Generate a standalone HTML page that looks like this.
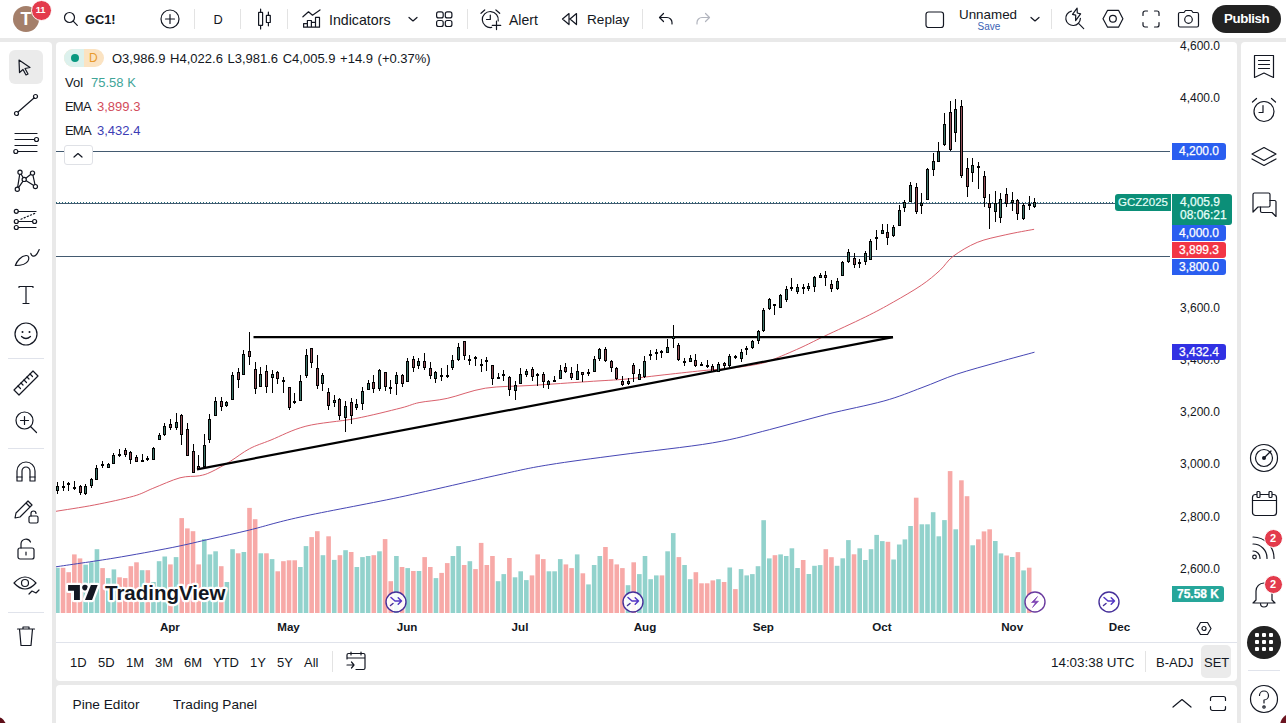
<!DOCTYPE html>
<html><head><meta charset="utf-8">
<style>
*{box-sizing:border-box;margin:0;padding:0}
html,body{width:1286px;height:723px;overflow:hidden;background:#e9e9e9;font-family:"Liberation Sans",sans-serif;color:#131722}
.a{position:absolute}
.t{position:absolute;white-space:nowrap;line-height:1}
svg.i{position:absolute;overflow:visible}
.ico{fill:none;stroke:#131722;stroke-width:1.2;stroke-linecap:round;stroke-linejoin:round}
.pl{position:absolute;height:16px;border-radius:0 3px 3px 0;color:#fff;font-size:12px;line-height:16px;text-align:center;-webkit-text-stroke:0.25px #fff}
.ps{position:absolute;left:1180px;font-size:12px;line-height:1;color:#131722}
.tf{position:absolute;top:656px;font-size:13px;line-height:1;color:#131722}
.tl{position:absolute;top:621.3px;font-size:11.6px;font-weight:bold;line-height:1;color:#131722;transform:translateX(-50%)}
.sep{position:absolute;width:1px;background:#e3e3e3}
</style></head><body>
<!-- top bar -->
<div class="a" style="left:0;top:0;width:1286px;height:38px;background:#fff"></div>
<!-- left toolbar -->
<div class="a" style="left:0;top:42px;width:52px;height:681px;background:#fff;border-top-right-radius:4px"></div>
<!-- right toolbar -->
<div class="a" style="left:1241px;top:42px;width:45px;height:681px;background:#fff;border-top-left-radius:4px"></div>
<!-- chart panel -->
<div class="a" style="left:56px;top:42px;width:1181px;height:639px;background:#fff;border-radius:4px;overflow:hidden">
<div class="a" style="left:-56px;top:-42px;width:1286px;height:723px">
<svg width="1114" height="571" viewBox="56 42 1114 571" style="position:absolute;left:56px;top:42px" shape-rendering="crispEdges">
<rect x="55.10" y="567.8" width="4.6" height="46.2" fill="#92d2cc" shape-rendering="geometricPrecision"/>
<rect x="60.75" y="567.8" width="4.6" height="46.2" fill="#f7a9a7" shape-rendering="geometricPrecision"/>
<rect x="66.40" y="572.2" width="4.6" height="41.8" fill="#f7a9a7" shape-rendering="geometricPrecision"/>
<rect x="72.05" y="554.4" width="4.6" height="59.6" fill="#f7a9a7" shape-rendering="geometricPrecision"/>
<rect x="77.70" y="558.4" width="4.6" height="55.6" fill="#f7a9a7" shape-rendering="geometricPrecision"/>
<rect x="83.35" y="564.7" width="4.6" height="49.3" fill="#92d2cc" shape-rendering="geometricPrecision"/>
<rect x="89.00" y="562.3" width="4.6" height="51.7" fill="#92d2cc" shape-rendering="geometricPrecision"/>
<rect x="94.65" y="549.2" width="4.6" height="64.8" fill="#92d2cc" shape-rendering="geometricPrecision"/>
<rect x="100.30" y="568.1" width="4.6" height="45.9" fill="#f7a9a7" shape-rendering="geometricPrecision"/>
<rect x="105.95" y="578.1" width="4.6" height="35.9" fill="#92d2cc" shape-rendering="geometricPrecision"/>
<rect x="111.60" y="569.4" width="4.6" height="44.6" fill="#92d2cc" shape-rendering="geometricPrecision"/>
<rect x="117.25" y="577.3" width="4.6" height="36.7" fill="#f7a9a7" shape-rendering="geometricPrecision"/>
<rect x="122.90" y="578.1" width="4.6" height="35.9" fill="#f7a9a7" shape-rendering="geometricPrecision"/>
<rect x="128.55" y="566.2" width="4.6" height="47.8" fill="#f7a9a7" shape-rendering="geometricPrecision"/>
<rect x="134.20" y="562.3" width="4.6" height="51.7" fill="#f7a9a7" shape-rendering="geometricPrecision"/>
<rect x="139.85" y="570.2" width="4.6" height="43.8" fill="#92d2cc" shape-rendering="geometricPrecision"/>
<rect x="145.50" y="570.2" width="4.6" height="43.8" fill="#f7a9a7" shape-rendering="geometricPrecision"/>
<rect x="151.15" y="582.0" width="4.6" height="32.0" fill="#92d2cc" shape-rendering="geometricPrecision"/>
<rect x="156.80" y="561.2" width="4.6" height="52.8" fill="#92d2cc" shape-rendering="geometricPrecision"/>
<rect x="162.45" y="556.5" width="4.6" height="57.5" fill="#92d2cc" shape-rendering="geometricPrecision"/>
<rect x="168.10" y="564.4" width="4.6" height="49.6" fill="#f7a9a7" shape-rendering="geometricPrecision"/>
<rect x="173.75" y="557.1" width="4.6" height="56.9" fill="#92d2cc" shape-rendering="geometricPrecision"/>
<rect x="179.40" y="518.1" width="4.6" height="95.9" fill="#f7a9a7" shape-rendering="geometricPrecision"/>
<rect x="185.05" y="528.4" width="4.6" height="85.6" fill="#f7a9a7" shape-rendering="geometricPrecision"/>
<rect x="190.70" y="531.2" width="4.6" height="82.8" fill="#f7a9a7" shape-rendering="geometricPrecision"/>
<rect x="196.35" y="564.4" width="4.6" height="49.6" fill="#f7a9a7" shape-rendering="geometricPrecision"/>
<rect x="202.00" y="539.1" width="4.6" height="74.9" fill="#92d2cc" shape-rendering="geometricPrecision"/>
<rect x="207.65" y="554.4" width="4.6" height="59.6" fill="#92d2cc" shape-rendering="geometricPrecision"/>
<rect x="213.30" y="551.3" width="4.6" height="62.7" fill="#92d2cc" shape-rendering="geometricPrecision"/>
<rect x="218.95" y="566.2" width="4.6" height="47.8" fill="#f7a9a7" shape-rendering="geometricPrecision"/>
<rect x="224.60" y="582.0" width="4.6" height="32.0" fill="#92d2cc" shape-rendering="geometricPrecision"/>
<rect x="230.25" y="549.2" width="4.6" height="64.8" fill="#92d2cc" shape-rendering="geometricPrecision"/>
<rect x="235.90" y="553.3" width="4.6" height="60.7" fill="#f7a9a7" shape-rendering="geometricPrecision"/>
<rect x="241.55" y="552.0" width="4.6" height="62.0" fill="#92d2cc" shape-rendering="geometricPrecision"/>
<rect x="247.20" y="507.9" width="4.6" height="106.1" fill="#f7a9a7" shape-rendering="geometricPrecision"/>
<rect x="252.85" y="519.2" width="4.6" height="94.8" fill="#f7a9a7" shape-rendering="geometricPrecision"/>
<rect x="258.50" y="553.3" width="4.6" height="60.7" fill="#92d2cc" shape-rendering="geometricPrecision"/>
<rect x="264.15" y="553.3" width="4.6" height="60.7" fill="#f7a9a7" shape-rendering="geometricPrecision"/>
<rect x="269.80" y="559.1" width="4.6" height="54.9" fill="#92d2cc" shape-rendering="geometricPrecision"/>
<rect x="275.45" y="571.3" width="4.6" height="42.7" fill="#f7a9a7" shape-rendering="geometricPrecision"/>
<rect x="281.10" y="561.2" width="4.6" height="52.8" fill="#f7a9a7" shape-rendering="geometricPrecision"/>
<rect x="286.75" y="560.3" width="4.6" height="53.7" fill="#f7a9a7" shape-rendering="geometricPrecision"/>
<rect x="292.40" y="560.3" width="4.6" height="53.7" fill="#f7a9a7" shape-rendering="geometricPrecision"/>
<rect x="298.05" y="567.0" width="4.6" height="47.0" fill="#92d2cc" shape-rendering="geometricPrecision"/>
<rect x="303.70" y="546.1" width="4.6" height="67.9" fill="#92d2cc" shape-rendering="geometricPrecision"/>
<rect x="309.35" y="537.1" width="4.6" height="76.9" fill="#f7a9a7" shape-rendering="geometricPrecision"/>
<rect x="315.00" y="531.2" width="4.6" height="82.8" fill="#f7a9a7" shape-rendering="geometricPrecision"/>
<rect x="320.65" y="555.2" width="4.6" height="58.8" fill="#92d2cc" shape-rendering="geometricPrecision"/>
<rect x="326.30" y="536.3" width="4.6" height="77.7" fill="#f7a9a7" shape-rendering="geometricPrecision"/>
<rect x="331.95" y="559.9" width="4.6" height="54.1" fill="#92d2cc" shape-rendering="geometricPrecision"/>
<rect x="337.60" y="555.2" width="4.6" height="58.8" fill="#f7a9a7" shape-rendering="geometricPrecision"/>
<rect x="343.25" y="550.2" width="4.6" height="63.8" fill="#92d2cc" shape-rendering="geometricPrecision"/>
<rect x="348.90" y="552.0" width="4.6" height="62.0" fill="#f7a9a7" shape-rendering="geometricPrecision"/>
<rect x="354.55" y="567.0" width="4.6" height="47.0" fill="#92d2cc" shape-rendering="geometricPrecision"/>
<rect x="360.20" y="557.1" width="4.6" height="56.9" fill="#92d2cc" shape-rendering="geometricPrecision"/>
<rect x="365.85" y="556.0" width="4.6" height="58.0" fill="#92d2cc" shape-rendering="geometricPrecision"/>
<rect x="371.50" y="555.2" width="4.6" height="58.8" fill="#f7a9a7" shape-rendering="geometricPrecision"/>
<rect x="377.15" y="551.3" width="4.6" height="62.7" fill="#92d2cc" shape-rendering="geometricPrecision"/>
<rect x="382.80" y="539.1" width="4.6" height="74.9" fill="#f7a9a7" shape-rendering="geometricPrecision"/>
<rect x="388.45" y="581.2" width="4.6" height="32.8" fill="#f7a9a7" shape-rendering="geometricPrecision"/>
<rect x="394.10" y="556.0" width="4.6" height="58.0" fill="#92d2cc" shape-rendering="geometricPrecision"/>
<rect x="399.75" y="567.0" width="4.6" height="47.0" fill="#f7a9a7" shape-rendering="geometricPrecision"/>
<rect x="405.40" y="568.1" width="4.6" height="45.9" fill="#92d2cc" shape-rendering="geometricPrecision"/>
<rect x="411.05" y="571.0" width="4.6" height="43.0" fill="#f7a9a7" shape-rendering="geometricPrecision"/>
<rect x="416.70" y="571.0" width="4.6" height="43.0" fill="#92d2cc" shape-rendering="geometricPrecision"/>
<rect x="422.35" y="557.1" width="4.6" height="56.9" fill="#f7a9a7" shape-rendering="geometricPrecision"/>
<rect x="428.00" y="567.0" width="4.6" height="47.0" fill="#f7a9a7" shape-rendering="geometricPrecision"/>
<rect x="433.65" y="578.1" width="4.6" height="35.9" fill="#92d2cc" shape-rendering="geometricPrecision"/>
<rect x="439.30" y="572.9" width="4.6" height="41.1" fill="#f7a9a7" shape-rendering="geometricPrecision"/>
<rect x="444.95" y="563.1" width="4.6" height="50.9" fill="#f7a9a7" shape-rendering="geometricPrecision"/>
<rect x="450.60" y="556.0" width="4.6" height="58.0" fill="#92d2cc" shape-rendering="geometricPrecision"/>
<rect x="456.25" y="546.1" width="4.6" height="67.9" fill="#92d2cc" shape-rendering="geometricPrecision"/>
<rect x="461.90" y="565.0" width="4.6" height="49.0" fill="#f7a9a7" shape-rendering="geometricPrecision"/>
<rect x="467.55" y="561.2" width="4.6" height="52.8" fill="#92d2cc" shape-rendering="geometricPrecision"/>
<rect x="473.20" y="569.1" width="4.6" height="44.9" fill="#f7a9a7" shape-rendering="geometricPrecision"/>
<rect x="478.85" y="542.9" width="4.6" height="71.1" fill="#f7a9a7" shape-rendering="geometricPrecision"/>
<rect x="484.50" y="565.0" width="4.6" height="49.0" fill="#f7a9a7" shape-rendering="geometricPrecision"/>
<rect x="490.15" y="556.0" width="4.6" height="58.0" fill="#f7a9a7" shape-rendering="geometricPrecision"/>
<rect x="495.80" y="581.2" width="4.6" height="32.8" fill="#92d2cc" shape-rendering="geometricPrecision"/>
<rect x="501.45" y="574.1" width="4.6" height="39.9" fill="#92d2cc" shape-rendering="geometricPrecision"/>
<rect x="507.10" y="558.0" width="4.6" height="56.0" fill="#f7a9a7" shape-rendering="geometricPrecision"/>
<rect x="512.75" y="577.3" width="4.6" height="36.7" fill="#92d2cc" shape-rendering="geometricPrecision"/>
<rect x="518.40" y="571.3" width="4.6" height="42.7" fill="#92d2cc" shape-rendering="geometricPrecision"/>
<rect x="524.05" y="580.1" width="4.6" height="33.9" fill="#92d2cc" shape-rendering="geometricPrecision"/>
<rect x="529.70" y="575.4" width="4.6" height="38.6" fill="#f7a9a7" shape-rendering="geometricPrecision"/>
<rect x="535.35" y="554.4" width="4.6" height="59.6" fill="#f7a9a7" shape-rendering="geometricPrecision"/>
<rect x="541.00" y="559.1" width="4.6" height="54.9" fill="#f7a9a7" shape-rendering="geometricPrecision"/>
<rect x="546.65" y="571.3" width="4.6" height="42.7" fill="#92d2cc" shape-rendering="geometricPrecision"/>
<rect x="552.30" y="571.3" width="4.6" height="42.7" fill="#92d2cc" shape-rendering="geometricPrecision"/>
<rect x="557.95" y="559.1" width="4.6" height="54.9" fill="#92d2cc" shape-rendering="geometricPrecision"/>
<rect x="563.60" y="564.4" width="4.6" height="49.6" fill="#f7a9a7" shape-rendering="geometricPrecision"/>
<rect x="569.25" y="568.1" width="4.6" height="45.9" fill="#f7a9a7" shape-rendering="geometricPrecision"/>
<rect x="574.90" y="554.4" width="4.6" height="59.6" fill="#92d2cc" shape-rendering="geometricPrecision"/>
<rect x="580.55" y="573.3" width="4.6" height="40.7" fill="#f7a9a7" shape-rendering="geometricPrecision"/>
<rect x="586.20" y="584.4" width="4.6" height="29.6" fill="#92d2cc" shape-rendering="geometricPrecision"/>
<rect x="591.85" y="565.0" width="4.6" height="49.0" fill="#92d2cc" shape-rendering="geometricPrecision"/>
<rect x="597.50" y="556.0" width="4.6" height="58.0" fill="#92d2cc" shape-rendering="geometricPrecision"/>
<rect x="603.15" y="547.0" width="4.6" height="67.0" fill="#f7a9a7" shape-rendering="geometricPrecision"/>
<rect x="608.80" y="559.1" width="4.6" height="54.9" fill="#f7a9a7" shape-rendering="geometricPrecision"/>
<rect x="614.45" y="564.4" width="4.6" height="49.6" fill="#f7a9a7" shape-rendering="geometricPrecision"/>
<rect x="620.10" y="568.1" width="4.6" height="45.9" fill="#f7a9a7" shape-rendering="geometricPrecision"/>
<rect x="625.75" y="585.2" width="4.6" height="28.8" fill="#92d2cc" shape-rendering="geometricPrecision"/>
<rect x="631.40" y="562.3" width="4.6" height="51.7" fill="#f7a9a7" shape-rendering="geometricPrecision"/>
<rect x="637.05" y="574.1" width="4.6" height="39.9" fill="#92d2cc" shape-rendering="geometricPrecision"/>
<rect x="642.70" y="556.0" width="4.6" height="58.0" fill="#92d2cc" shape-rendering="geometricPrecision"/>
<rect x="648.35" y="579.2" width="4.6" height="34.8" fill="#92d2cc" shape-rendering="geometricPrecision"/>
<rect x="654.00" y="575.4" width="4.6" height="38.6" fill="#92d2cc" shape-rendering="geometricPrecision"/>
<rect x="659.65" y="575.4" width="4.6" height="38.6" fill="#f7a9a7" shape-rendering="geometricPrecision"/>
<rect x="665.30" y="551.3" width="4.6" height="62.7" fill="#92d2cc" shape-rendering="geometricPrecision"/>
<rect x="670.95" y="533.1" width="4.6" height="80.9" fill="#92d2cc" shape-rendering="geometricPrecision"/>
<rect x="676.60" y="557.1" width="4.6" height="56.9" fill="#f7a9a7" shape-rendering="geometricPrecision"/>
<rect x="682.25" y="565.0" width="4.6" height="49.0" fill="#92d2cc" shape-rendering="geometricPrecision"/>
<rect x="687.90" y="579.2" width="4.6" height="34.8" fill="#92d2cc" shape-rendering="geometricPrecision"/>
<rect x="693.55" y="572.2" width="4.6" height="41.8" fill="#f7a9a7" shape-rendering="geometricPrecision"/>
<rect x="699.20" y="583.3" width="4.6" height="30.7" fill="#f7a9a7" shape-rendering="geometricPrecision"/>
<rect x="704.85" y="583.3" width="4.6" height="30.7" fill="#f7a9a7" shape-rendering="geometricPrecision"/>
<rect x="710.50" y="580.4" width="4.6" height="33.6" fill="#f7a9a7" shape-rendering="geometricPrecision"/>
<rect x="716.15" y="579.2" width="4.6" height="34.8" fill="#92d2cc" shape-rendering="geometricPrecision"/>
<rect x="721.80" y="582.0" width="4.6" height="32.0" fill="#f7a9a7" shape-rendering="geometricPrecision"/>
<rect x="727.45" y="567.5" width="4.6" height="46.5" fill="#92d2cc" shape-rendering="geometricPrecision"/>
<rect x="733.10" y="589.1" width="4.6" height="24.9" fill="#f7a9a7" shape-rendering="geometricPrecision"/>
<rect x="738.75" y="569.1" width="4.6" height="44.9" fill="#92d2cc" shape-rendering="geometricPrecision"/>
<rect x="744.40" y="575.4" width="4.6" height="38.6" fill="#92d2cc" shape-rendering="geometricPrecision"/>
<rect x="750.05" y="574.1" width="4.6" height="39.9" fill="#92d2cc" shape-rendering="geometricPrecision"/>
<rect x="755.70" y="566.2" width="4.6" height="47.8" fill="#92d2cc" shape-rendering="geometricPrecision"/>
<rect x="761.35" y="520.2" width="4.6" height="93.8" fill="#92d2cc" shape-rendering="geometricPrecision"/>
<rect x="767.00" y="558.4" width="4.6" height="55.6" fill="#92d2cc" shape-rendering="geometricPrecision"/>
<rect x="772.65" y="555.2" width="4.6" height="58.8" fill="#f7a9a7" shape-rendering="geometricPrecision"/>
<rect x="778.30" y="554.4" width="4.6" height="59.6" fill="#92d2cc" shape-rendering="geometricPrecision"/>
<rect x="783.95" y="556.0" width="4.6" height="58.0" fill="#92d2cc" shape-rendering="geometricPrecision"/>
<rect x="789.60" y="548.3" width="4.6" height="65.7" fill="#92d2cc" shape-rendering="geometricPrecision"/>
<rect x="795.25" y="568.0" width="4.6" height="46.0" fill="#92d2cc" shape-rendering="geometricPrecision"/>
<rect x="800.90" y="560.0" width="4.6" height="54.0" fill="#f7a9a7" shape-rendering="geometricPrecision"/>
<rect x="806.55" y="574.0" width="4.6" height="40.0" fill="#92d2cc" shape-rendering="geometricPrecision"/>
<rect x="812.20" y="565.8" width="4.6" height="48.2" fill="#92d2cc" shape-rendering="geometricPrecision"/>
<rect x="817.85" y="565.1" width="4.6" height="48.9" fill="#92d2cc" shape-rendering="geometricPrecision"/>
<rect x="823.50" y="549.2" width="4.6" height="64.8" fill="#f7a9a7" shape-rendering="geometricPrecision"/>
<rect x="829.15" y="557.2" width="4.6" height="56.8" fill="#f7a9a7" shape-rendering="geometricPrecision"/>
<rect x="834.80" y="565.8" width="4.6" height="48.2" fill="#92d2cc" shape-rendering="geometricPrecision"/>
<rect x="840.45" y="558.3" width="4.6" height="55.7" fill="#92d2cc" shape-rendering="geometricPrecision"/>
<rect x="846.10" y="540.1" width="4.6" height="73.9" fill="#92d2cc" shape-rendering="geometricPrecision"/>
<rect x="851.75" y="554.3" width="4.6" height="59.7" fill="#f7a9a7" shape-rendering="geometricPrecision"/>
<rect x="857.40" y="548.3" width="4.6" height="65.7" fill="#92d2cc" shape-rendering="geometricPrecision"/>
<rect x="863.05" y="560.0" width="4.6" height="54.0" fill="#92d2cc" shape-rendering="geometricPrecision"/>
<rect x="868.70" y="549.2" width="4.6" height="64.8" fill="#92d2cc" shape-rendering="geometricPrecision"/>
<rect x="874.35" y="534.9" width="4.6" height="79.1" fill="#92d2cc" shape-rendering="geometricPrecision"/>
<rect x="880.00" y="541.1" width="4.6" height="72.9" fill="#92d2cc" shape-rendering="geometricPrecision"/>
<rect x="885.65" y="541.8" width="4.6" height="72.2" fill="#f7a9a7" shape-rendering="geometricPrecision"/>
<rect x="891.30" y="559.5" width="4.6" height="54.5" fill="#92d2cc" shape-rendering="geometricPrecision"/>
<rect x="896.95" y="544.5" width="4.6" height="69.5" fill="#92d2cc" shape-rendering="geometricPrecision"/>
<rect x="902.60" y="539.4" width="4.6" height="74.6" fill="#92d2cc" shape-rendering="geometricPrecision"/>
<rect x="908.25" y="526.0" width="4.6" height="88.0" fill="#92d2cc" shape-rendering="geometricPrecision"/>
<rect x="913.90" y="497.7" width="4.6" height="116.3" fill="#f7a9a7" shape-rendering="geometricPrecision"/>
<rect x="919.55" y="524.3" width="4.6" height="89.7" fill="#92d2cc" shape-rendering="geometricPrecision"/>
<rect x="925.20" y="524.3" width="4.6" height="89.7" fill="#92d2cc" shape-rendering="geometricPrecision"/>
<rect x="930.85" y="512.2" width="4.6" height="101.8" fill="#92d2cc" shape-rendering="geometricPrecision"/>
<rect x="936.50" y="536.3" width="4.6" height="77.7" fill="#92d2cc" shape-rendering="geometricPrecision"/>
<rect x="942.15" y="520.1" width="4.6" height="93.9" fill="#92d2cc" shape-rendering="geometricPrecision"/>
<rect x="947.80" y="471.1" width="4.6" height="142.9" fill="#f7a9a7" shape-rendering="geometricPrecision"/>
<rect x="953.45" y="529.3" width="4.6" height="84.7" fill="#92d2cc" shape-rendering="geometricPrecision"/>
<rect x="959.10" y="480.3" width="4.6" height="133.7" fill="#f7a9a7" shape-rendering="geometricPrecision"/>
<rect x="964.75" y="496.2" width="4.6" height="117.8" fill="#f7a9a7" shape-rendering="geometricPrecision"/>
<rect x="970.40" y="545.3" width="4.6" height="68.7" fill="#92d2cc" shape-rendering="geometricPrecision"/>
<rect x="976.05" y="539.3" width="4.6" height="74.7" fill="#f7a9a7" shape-rendering="geometricPrecision"/>
<rect x="981.70" y="531.4" width="4.6" height="82.6" fill="#f7a9a7" shape-rendering="geometricPrecision"/>
<rect x="987.35" y="529.3" width="4.6" height="84.7" fill="#f7a9a7" shape-rendering="geometricPrecision"/>
<rect x="993.00" y="541.0" width="4.6" height="73.0" fill="#92d2cc" shape-rendering="geometricPrecision"/>
<rect x="998.65" y="553.4" width="4.6" height="60.6" fill="#92d2cc" shape-rendering="geometricPrecision"/>
<rect x="1004.30" y="555.5" width="4.6" height="58.5" fill="#f7a9a7" shape-rendering="geometricPrecision"/>
<rect x="1009.95" y="557.0" width="4.6" height="57.0" fill="#92d2cc" shape-rendering="geometricPrecision"/>
<rect x="1015.60" y="552.1" width="4.6" height="61.9" fill="#f7a9a7" shape-rendering="geometricPrecision"/>
<rect x="1021.25" y="570.4" width="4.6" height="43.6" fill="#92d2cc" shape-rendering="geometricPrecision"/>
<rect x="1026.90" y="567.7" width="4.6" height="46.3" fill="#f7a9a7" shape-rendering="geometricPrecision"/>
<rect x="1032.55" y="613.0" width="4.6" height="1.0" fill="#92d2cc" shape-rendering="geometricPrecision"/>
<rect x="56" y="151" width="1114" height="1" fill="#435a70"/>
<rect x="56" y="256" width="1114" height="1" fill="#435a70"/>
<rect x="56" y="203" width="1060" height="1" fill="#435a70"/>
<line x1="56" y1="202.5" x2="1116" y2="202.5" stroke="#2a6f7a" stroke-width="1" stroke-dasharray="1 2"/>
</svg>
<svg width="1114" height="571" viewBox="56 42 1114 571" style="position:absolute;left:56px;top:42px">
<path d="M56.0 511.3 C62.5 510.2 81.8 507.4 94.7 504.9 C107.6 502.4 123.8 498.9 133.5 496.2 C143.2 493.4 145.1 491.5 152.8 488.4 C160.6 485.3 172.2 479.9 180.0 477.8 C187.8 475.7 194.1 476.8 199.3 475.8 C204.5 474.8 205.8 474.4 211.0 472.0 C216.2 469.6 223.9 465.2 230.3 461.3 C236.7 457.4 242.8 452.2 249.6 448.7 C256.4 445.1 261.6 443.8 271.0 440.0 C280.4 436.2 291.9 429.8 305.9 426.2 C319.9 422.6 339.4 421.6 355.2 418.6 C371.0 415.6 390.2 410.7 400.9 408.0 C411.5 405.3 411.4 404.2 419.1 402.6 C426.8 401.0 436.2 400.8 447.2 398.4 C458.2 396.0 471.2 390.4 485.3 388.2 C499.4 386.0 514.9 386.5 532.0 385.4 C549.1 384.3 572.1 382.7 587.9 381.6 C603.7 380.5 615.0 380.1 627.0 379.0 C639.0 377.9 647.5 376.7 660.0 375.3 C672.5 373.9 690.3 371.9 702.0 370.7 C713.7 369.5 720.7 369.4 730.0 368.3 C739.3 367.2 751.0 365.5 758.0 364.1 C765.0 362.7 765.0 362.6 772.0 359.9 C779.0 357.2 791.4 351.9 800.0 348.0 C808.6 344.1 812.9 341.7 823.8 336.5 C834.7 331.3 853.7 322.7 865.3 317.0 C876.9 311.3 884.0 307.4 893.3 302.1 C902.6 296.8 913.5 290.6 921.3 285.3 C929.1 280.0 934.6 275.2 939.9 270.4 C945.2 265.6 946.8 261.1 953.0 256.4 C959.2 251.7 968.5 246.0 977.2 242.4 C985.9 238.8 995.7 237.1 1005.2 234.9 C1014.7 232.7 1029.3 230.2 1034.1 229.3" fill="none" stroke="#d9606c" stroke-width="1"/>
<path d="M56.0 566.8 C65.7 565.3 94.6 561.3 114.0 558.1 C133.4 554.9 156.0 550.7 172.2 547.5 C188.4 544.3 198.1 541.7 211.0 538.8 C223.9 535.9 234.8 533.6 249.6 530.0 C264.4 526.4 275.0 522.6 300.0 517.1 C325.0 511.6 366.3 504.2 399.5 497.2 C432.7 490.1 474.1 480.2 499.0 474.8 C523.9 469.4 528.6 468.1 548.8 464.8 C569.0 461.5 592.7 458.5 620.0 454.9 C647.3 451.2 687.5 447.1 712.4 442.9 C737.3 438.7 750.5 434.4 769.6 429.6 C788.7 424.8 807.8 419.1 826.8 414.3 C845.8 409.5 868.0 405.4 883.9 401.0 C899.8 396.6 909.9 392.1 922.0 387.6 C934.1 383.2 943.6 378.6 956.3 374.3 C969.0 370.1 985.3 365.8 998.3 362.1 C1011.3 358.4 1028.5 353.9 1034.5 352.2" fill="none" stroke="#4646b4" stroke-width="1"/>
<line x1="197" y1="469.3" x2="893" y2="337.2" stroke="#000" stroke-width="2.2"/>
<line x1="253.5" y1="337.2" x2="893" y2="337.2" stroke="#000" stroke-width="2.2"/>
</svg>
<svg width="1114" height="571" viewBox="56 42 1114 571" style="position:absolute;left:56px;top:42px" shape-rendering="crispEdges">
<rect x="57" y="482" width="1" height="12" fill="#000"/>
<rect x="56" y="486" width="3" height="5" fill="#000"/>
<rect x="57" y="487" width="1" height="3" fill="#3d7468"/>
<rect x="63" y="481" width="1" height="10" fill="#000"/>
<rect x="62" y="486" width="3" height="2" fill="#000"/>
<rect x="68" y="482" width="1" height="9" fill="#000"/>
<rect x="67" y="483" width="3" height="2" fill="#000"/>
<rect x="74" y="481" width="1" height="9" fill="#000"/>
<rect x="73" y="487" width="3" height="2" fill="#000"/>
<rect x="80" y="485" width="1" height="10" fill="#000"/>
<rect x="79" y="486" width="3" height="7" fill="#000"/>
<rect x="80" y="487" width="1" height="5" fill="#94505a"/>
<rect x="85" y="484" width="1" height="11" fill="#000"/>
<rect x="84" y="486" width="3" height="8" fill="#000"/>
<rect x="85" y="487" width="1" height="6" fill="#3d7468"/>
<rect x="91" y="478" width="1" height="10" fill="#000"/>
<rect x="90" y="479" width="3" height="7" fill="#000"/>
<rect x="91" y="480" width="1" height="5" fill="#3d7468"/>
<rect x="96" y="465" width="1" height="15" fill="#000"/>
<rect x="95" y="468" width="3" height="12" fill="#000"/>
<rect x="96" y="469" width="1" height="10" fill="#3d7468"/>
<rect x="102" y="461" width="1" height="7" fill="#000"/>
<rect x="101" y="464" width="3" height="2" fill="#000"/>
<rect x="108" y="463" width="1" height="5" fill="#000"/>
<rect x="107" y="464" width="3" height="4" fill="#000"/>
<rect x="108" y="465" width="1" height="2" fill="#3d7468"/>
<rect x="113" y="453" width="1" height="11" fill="#000"/>
<rect x="112" y="455" width="3" height="9" fill="#000"/>
<rect x="113" y="456" width="1" height="7" fill="#3d7468"/>
<rect x="119" y="449" width="1" height="8" fill="#000"/>
<rect x="118" y="454" width="3" height="2" fill="#000"/>
<rect x="125" y="448" width="1" height="9" fill="#000"/>
<rect x="124" y="450" width="3" height="5" fill="#000"/>
<rect x="125" y="451" width="1" height="3" fill="#94505a"/>
<rect x="130" y="451" width="1" height="13" fill="#000"/>
<rect x="129" y="452" width="3" height="8" fill="#000"/>
<rect x="130" y="453" width="1" height="6" fill="#94505a"/>
<rect x="136" y="455" width="1" height="7" fill="#000"/>
<rect x="135" y="457" width="3" height="5" fill="#000"/>
<rect x="136" y="458" width="1" height="3" fill="#94505a"/>
<rect x="142" y="454" width="1" height="8" fill="#000"/>
<rect x="141" y="460" width="3" height="2" fill="#000"/>
<rect x="147" y="456" width="1" height="5" fill="#000"/>
<rect x="146" y="458" width="3" height="2" fill="#000"/>
<rect x="153" y="447" width="1" height="13" fill="#000"/>
<rect x="152" y="448" width="3" height="12" fill="#000"/>
<rect x="153" y="449" width="1" height="10" fill="#3d7468"/>
<rect x="159" y="433" width="1" height="7" fill="#000"/>
<rect x="158" y="435" width="3" height="5" fill="#000"/>
<rect x="159" y="436" width="1" height="3" fill="#3d7468"/>
<rect x="164" y="423" width="1" height="13" fill="#000"/>
<rect x="163" y="426" width="3" height="9" fill="#000"/>
<rect x="164" y="427" width="1" height="7" fill="#3d7468"/>
<rect x="170" y="419" width="1" height="11" fill="#000"/>
<rect x="169" y="424" width="3" height="4" fill="#000"/>
<rect x="170" y="425" width="1" height="2" fill="#94505a"/>
<rect x="176" y="413" width="1" height="17" fill="#000"/>
<rect x="175" y="422" width="3" height="6" fill="#000"/>
<rect x="176" y="423" width="1" height="4" fill="#3d7468"/>
<rect x="181" y="414" width="1" height="31" fill="#000"/>
<rect x="180" y="415" width="3" height="20" fill="#000"/>
<rect x="181" y="416" width="1" height="18" fill="#94505a"/>
<rect x="187" y="423" width="1" height="33" fill="#000"/>
<rect x="186" y="429" width="3" height="27" fill="#000"/>
<rect x="187" y="430" width="1" height="25" fill="#94505a"/>
<rect x="193" y="444" width="1" height="29" fill="#000"/>
<rect x="192" y="451" width="3" height="22" fill="#000"/>
<rect x="193" y="452" width="1" height="20" fill="#94505a"/>
<rect x="198" y="455" width="1" height="15" fill="#000"/>
<rect x="197" y="466" width="3" height="3" fill="#000"/>
<rect x="198" y="467" width="1" height="1" fill="#94505a"/>
<rect x="204" y="434" width="1" height="33" fill="#000"/>
<rect x="203" y="445" width="3" height="22" fill="#000"/>
<rect x="204" y="446" width="1" height="20" fill="#3d7468"/>
<rect x="209" y="414" width="1" height="29" fill="#000"/>
<rect x="208" y="419" width="3" height="21" fill="#000"/>
<rect x="209" y="420" width="1" height="19" fill="#3d7468"/>
<rect x="215" y="397" width="1" height="19" fill="#000"/>
<rect x="214" y="401" width="3" height="15" fill="#000"/>
<rect x="215" y="402" width="1" height="13" fill="#3d7468"/>
<rect x="221" y="397" width="1" height="14" fill="#000"/>
<rect x="220" y="401" width="3" height="6" fill="#000"/>
<rect x="221" y="402" width="1" height="4" fill="#94505a"/>
<rect x="226" y="401" width="1" height="6" fill="#000"/>
<rect x="225" y="402" width="3" height="4" fill="#000"/>
<rect x="226" y="403" width="1" height="2" fill="#3d7468"/>
<rect x="232" y="372" width="1" height="28" fill="#000"/>
<rect x="231" y="375" width="3" height="25" fill="#000"/>
<rect x="232" y="376" width="1" height="23" fill="#3d7468"/>
<rect x="238" y="368" width="1" height="20" fill="#000"/>
<rect x="237" y="372" width="3" height="8" fill="#000"/>
<rect x="238" y="373" width="1" height="6" fill="#94505a"/>
<rect x="243" y="350" width="1" height="25" fill="#000"/>
<rect x="242" y="354" width="3" height="21" fill="#000"/>
<rect x="243" y="355" width="1" height="19" fill="#3d7468"/>
<rect x="249" y="332" width="1" height="33" fill="#000"/>
<rect x="248" y="351" width="3" height="6" fill="#000"/>
<rect x="249" y="352" width="1" height="4" fill="#94505a"/>
<rect x="255" y="362" width="1" height="32" fill="#000"/>
<rect x="254" y="369" width="3" height="20" fill="#000"/>
<rect x="255" y="370" width="1" height="18" fill="#94505a"/>
<rect x="260" y="367" width="1" height="20" fill="#000"/>
<rect x="259" y="374" width="3" height="13" fill="#000"/>
<rect x="260" y="375" width="1" height="11" fill="#3d7468"/>
<rect x="266" y="365" width="1" height="28" fill="#000"/>
<rect x="265" y="371" width="3" height="16" fill="#000"/>
<rect x="266" y="372" width="1" height="14" fill="#94505a"/>
<rect x="272" y="370" width="1" height="23" fill="#000"/>
<rect x="271" y="374" width="3" height="4" fill="#000"/>
<rect x="272" y="375" width="1" height="2" fill="#3d7468"/>
<rect x="277" y="371" width="1" height="13" fill="#000"/>
<rect x="276" y="372" width="3" height="7" fill="#000"/>
<rect x="277" y="373" width="1" height="5" fill="#94505a"/>
<rect x="283" y="377" width="1" height="16" fill="#000"/>
<rect x="282" y="380" width="3" height="2" fill="#000"/>
<rect x="289" y="387" width="1" height="23" fill="#000"/>
<rect x="288" y="387" width="3" height="21" fill="#000"/>
<rect x="289" y="388" width="1" height="19" fill="#94505a"/>
<rect x="294" y="393" width="1" height="11" fill="#000"/>
<rect x="293" y="401" width="3" height="2" fill="#000"/>
<rect x="300" y="375" width="1" height="26" fill="#000"/>
<rect x="299" y="381" width="3" height="20" fill="#000"/>
<rect x="300" y="382" width="1" height="18" fill="#3d7468"/>
<rect x="306" y="349" width="1" height="29" fill="#000"/>
<rect x="305" y="355" width="3" height="21" fill="#000"/>
<rect x="306" y="356" width="1" height="19" fill="#3d7468"/>
<rect x="311" y="348" width="1" height="20" fill="#000"/>
<rect x="310" y="348" width="3" height="15" fill="#000"/>
<rect x="311" y="349" width="1" height="13" fill="#94505a"/>
<rect x="317" y="355" width="1" height="34" fill="#000"/>
<rect x="316" y="368" width="3" height="18" fill="#000"/>
<rect x="317" y="369" width="1" height="16" fill="#94505a"/>
<rect x="322" y="373" width="1" height="18" fill="#000"/>
<rect x="321" y="375" width="3" height="9" fill="#000"/>
<rect x="322" y="376" width="1" height="7" fill="#3d7468"/>
<rect x="328" y="388" width="1" height="22" fill="#000"/>
<rect x="327" y="392" width="3" height="14" fill="#000"/>
<rect x="328" y="393" width="1" height="12" fill="#94505a"/>
<rect x="334" y="395" width="1" height="12" fill="#000"/>
<rect x="333" y="400" width="3" height="3" fill="#000"/>
<rect x="334" y="401" width="1" height="1" fill="#3d7468"/>
<rect x="339" y="398" width="1" height="22" fill="#000"/>
<rect x="338" y="399" width="3" height="17" fill="#000"/>
<rect x="339" y="400" width="1" height="15" fill="#94505a"/>
<rect x="345" y="401" width="1" height="31" fill="#000"/>
<rect x="344" y="406" width="3" height="12" fill="#000"/>
<rect x="345" y="407" width="1" height="10" fill="#3d7468"/>
<rect x="351" y="398" width="1" height="26" fill="#000"/>
<rect x="350" y="402" width="3" height="14" fill="#000"/>
<rect x="351" y="403" width="1" height="12" fill="#94505a"/>
<rect x="356" y="399" width="1" height="11" fill="#000"/>
<rect x="355" y="404" width="3" height="4" fill="#000"/>
<rect x="356" y="405" width="1" height="2" fill="#3d7468"/>
<rect x="362" y="387" width="1" height="23" fill="#000"/>
<rect x="361" y="391" width="3" height="13" fill="#000"/>
<rect x="362" y="392" width="1" height="11" fill="#3d7468"/>
<rect x="368" y="380" width="1" height="10" fill="#000"/>
<rect x="367" y="383" width="3" height="7" fill="#000"/>
<rect x="368" y="384" width="1" height="5" fill="#3d7468"/>
<rect x="373" y="375" width="1" height="18" fill="#000"/>
<rect x="372" y="382" width="3" height="7" fill="#000"/>
<rect x="373" y="383" width="1" height="5" fill="#94505a"/>
<rect x="379" y="369" width="1" height="22" fill="#000"/>
<rect x="378" y="370" width="3" height="19" fill="#000"/>
<rect x="379" y="371" width="1" height="17" fill="#3d7468"/>
<rect x="385" y="372" width="1" height="19" fill="#000"/>
<rect x="384" y="372" width="3" height="15" fill="#000"/>
<rect x="385" y="373" width="1" height="13" fill="#94505a"/>
<rect x="390" y="380" width="1" height="14" fill="#000"/>
<rect x="389" y="387" width="3" height="2" fill="#000"/>
<rect x="396" y="372" width="1" height="23" fill="#000"/>
<rect x="395" y="375" width="3" height="9" fill="#000"/>
<rect x="396" y="376" width="1" height="7" fill="#3d7468"/>
<rect x="402" y="374" width="1" height="13" fill="#000"/>
<rect x="401" y="375" width="3" height="9" fill="#000"/>
<rect x="402" y="376" width="1" height="7" fill="#94505a"/>
<rect x="407" y="358" width="1" height="24" fill="#000"/>
<rect x="406" y="361" width="3" height="21" fill="#000"/>
<rect x="407" y="362" width="1" height="19" fill="#3d7468"/>
<rect x="413" y="356" width="1" height="16" fill="#000"/>
<rect x="412" y="359" width="3" height="9" fill="#000"/>
<rect x="413" y="360" width="1" height="7" fill="#94505a"/>
<rect x="418" y="358" width="1" height="11" fill="#000"/>
<rect x="417" y="361" width="3" height="5" fill="#000"/>
<rect x="418" y="362" width="1" height="3" fill="#3d7468"/>
<rect x="424" y="353" width="1" height="17" fill="#000"/>
<rect x="423" y="361" width="3" height="7" fill="#000"/>
<rect x="424" y="362" width="1" height="5" fill="#94505a"/>
<rect x="430" y="362" width="1" height="17" fill="#000"/>
<rect x="429" y="368" width="3" height="8" fill="#000"/>
<rect x="430" y="369" width="1" height="6" fill="#94505a"/>
<rect x="435" y="371" width="1" height="12" fill="#000"/>
<rect x="434" y="372" width="3" height="7" fill="#000"/>
<rect x="435" y="373" width="1" height="5" fill="#3d7468"/>
<rect x="441" y="368" width="1" height="13" fill="#000"/>
<rect x="440" y="375" width="3" height="2" fill="#000"/>
<rect x="447" y="365" width="1" height="13" fill="#000"/>
<rect x="446" y="375" width="3" height="2" fill="#000"/>
<rect x="452" y="355" width="1" height="15" fill="#000"/>
<rect x="451" y="360" width="3" height="8" fill="#000"/>
<rect x="452" y="361" width="1" height="6" fill="#3d7468"/>
<rect x="458" y="343" width="1" height="18" fill="#000"/>
<rect x="457" y="347" width="3" height="13" fill="#000"/>
<rect x="458" y="348" width="1" height="11" fill="#3d7468"/>
<rect x="464" y="341" width="1" height="19" fill="#000"/>
<rect x="463" y="341" width="3" height="15" fill="#000"/>
<rect x="464" y="342" width="1" height="13" fill="#94505a"/>
<rect x="469" y="355" width="1" height="10" fill="#000"/>
<rect x="468" y="359" width="3" height="2" fill="#000"/>
<rect x="475" y="356" width="1" height="10" fill="#000"/>
<rect x="474" y="357" width="3" height="2" fill="#000"/>
<rect x="481" y="359" width="1" height="13" fill="#000"/>
<rect x="480" y="364" width="3" height="2" fill="#000"/>
<rect x="486" y="357" width="1" height="14" fill="#000"/>
<rect x="485" y="360" width="3" height="2" fill="#000"/>
<rect x="492" y="365" width="1" height="20" fill="#000"/>
<rect x="491" y="365" width="3" height="14" fill="#000"/>
<rect x="492" y="366" width="1" height="12" fill="#94505a"/>
<rect x="498" y="373" width="1" height="6" fill="#000"/>
<rect x="497" y="377" width="3" height="2" fill="#000"/>
<rect x="503" y="370" width="1" height="11" fill="#000"/>
<rect x="502" y="374" width="3" height="2" fill="#000"/>
<rect x="509" y="376" width="1" height="20" fill="#000"/>
<rect x="508" y="377" width="3" height="13" fill="#000"/>
<rect x="509" y="378" width="1" height="11" fill="#94505a"/>
<rect x="515" y="381" width="1" height="19" fill="#000"/>
<rect x="514" y="385" width="3" height="6" fill="#000"/>
<rect x="515" y="386" width="1" height="4" fill="#3d7468"/>
<rect x="520" y="368" width="1" height="16" fill="#000"/>
<rect x="519" y="374" width="3" height="10" fill="#000"/>
<rect x="520" y="375" width="1" height="8" fill="#3d7468"/>
<rect x="526" y="369" width="1" height="8" fill="#000"/>
<rect x="525" y="371" width="3" height="4" fill="#000"/>
<rect x="526" y="372" width="1" height="2" fill="#3d7468"/>
<rect x="532" y="367" width="1" height="14" fill="#000"/>
<rect x="531" y="369" width="3" height="8" fill="#000"/>
<rect x="532" y="370" width="1" height="6" fill="#94505a"/>
<rect x="537" y="373" width="1" height="13" fill="#000"/>
<rect x="536" y="374" width="3" height="2" fill="#000"/>
<rect x="543" y="372" width="1" height="16" fill="#000"/>
<rect x="542" y="374" width="3" height="8" fill="#000"/>
<rect x="543" y="375" width="1" height="6" fill="#94505a"/>
<rect x="548" y="380" width="1" height="9" fill="#000"/>
<rect x="547" y="381" width="3" height="4" fill="#000"/>
<rect x="548" y="382" width="1" height="2" fill="#3d7468"/>
<rect x="554" y="376" width="1" height="6" fill="#000"/>
<rect x="553" y="380" width="3" height="2" fill="#000"/>
<rect x="560" y="365" width="1" height="14" fill="#000"/>
<rect x="559" y="370" width="3" height="9" fill="#000"/>
<rect x="560" y="371" width="1" height="7" fill="#3d7468"/>
<rect x="565" y="363" width="1" height="10" fill="#000"/>
<rect x="564" y="367" width="3" height="5" fill="#000"/>
<rect x="565" y="368" width="1" height="3" fill="#94505a"/>
<rect x="571" y="367" width="1" height="13" fill="#000"/>
<rect x="570" y="373" width="3" height="5" fill="#000"/>
<rect x="571" y="374" width="1" height="3" fill="#94505a"/>
<rect x="577" y="364" width="1" height="16" fill="#000"/>
<rect x="576" y="371" width="3" height="9" fill="#000"/>
<rect x="577" y="372" width="1" height="7" fill="#3d7468"/>
<rect x="582" y="372" width="1" height="10" fill="#000"/>
<rect x="581" y="372" width="3" height="3" fill="#000"/>
<rect x="582" y="373" width="1" height="1" fill="#94505a"/>
<rect x="588" y="369" width="1" height="7" fill="#000"/>
<rect x="587" y="372" width="3" height="2" fill="#000"/>
<rect x="594" y="356" width="1" height="16" fill="#000"/>
<rect x="593" y="359" width="3" height="13" fill="#000"/>
<rect x="594" y="360" width="1" height="11" fill="#3d7468"/>
<rect x="599" y="348" width="1" height="13" fill="#000"/>
<rect x="598" y="349" width="3" height="10" fill="#000"/>
<rect x="599" y="350" width="1" height="8" fill="#3d7468"/>
<rect x="605" y="347" width="1" height="15" fill="#000"/>
<rect x="604" y="349" width="3" height="12" fill="#000"/>
<rect x="605" y="350" width="1" height="10" fill="#94505a"/>
<rect x="611" y="360" width="1" height="12" fill="#000"/>
<rect x="610" y="361" width="3" height="7" fill="#000"/>
<rect x="611" y="362" width="1" height="5" fill="#94505a"/>
<rect x="616" y="367" width="1" height="13" fill="#000"/>
<rect x="615" y="368" width="3" height="11" fill="#000"/>
<rect x="616" y="369" width="1" height="9" fill="#94505a"/>
<rect x="622" y="376" width="1" height="10" fill="#000"/>
<rect x="621" y="381" width="3" height="4" fill="#000"/>
<rect x="622" y="382" width="1" height="2" fill="#94505a"/>
<rect x="628" y="378" width="1" height="7" fill="#000"/>
<rect x="627" y="381" width="3" height="3" fill="#000"/>
<rect x="628" y="382" width="1" height="1" fill="#3d7468"/>
<rect x="633" y="363" width="1" height="19" fill="#000"/>
<rect x="632" y="365" width="3" height="9" fill="#000"/>
<rect x="633" y="366" width="1" height="7" fill="#94505a"/>
<rect x="639" y="369" width="1" height="11" fill="#000"/>
<rect x="638" y="374" width="3" height="6" fill="#000"/>
<rect x="639" y="375" width="1" height="4" fill="#3d7468"/>
<rect x="644" y="356" width="1" height="22" fill="#000"/>
<rect x="643" y="361" width="3" height="16" fill="#000"/>
<rect x="644" y="362" width="1" height="14" fill="#3d7468"/>
<rect x="650" y="350" width="1" height="10" fill="#000"/>
<rect x="649" y="354" width="3" height="2" fill="#000"/>
<rect x="656" y="349" width="1" height="11" fill="#000"/>
<rect x="655" y="352" width="3" height="2" fill="#000"/>
<rect x="661" y="350" width="1" height="8" fill="#000"/>
<rect x="660" y="351" width="3" height="2" fill="#000"/>
<rect x="667" y="339" width="1" height="14" fill="#000"/>
<rect x="666" y="347" width="3" height="6" fill="#000"/>
<rect x="667" y="348" width="1" height="4" fill="#3d7468"/>
<rect x="673" y="325" width="1" height="23" fill="#000"/>
<rect x="672" y="336" width="3" height="3" fill="#000"/>
<rect x="673" y="337" width="1" height="1" fill="#3d7468"/>
<rect x="678" y="343" width="1" height="18" fill="#000"/>
<rect x="677" y="345" width="3" height="15" fill="#000"/>
<rect x="678" y="346" width="1" height="13" fill="#94505a"/>
<rect x="684" y="358" width="1" height="8" fill="#000"/>
<rect x="683" y="361" width="3" height="2" fill="#000"/>
<rect x="690" y="355" width="1" height="7" fill="#000"/>
<rect x="689" y="358" width="3" height="4" fill="#000"/>
<rect x="690" y="359" width="1" height="2" fill="#3d7468"/>
<rect x="695" y="354" width="1" height="13" fill="#000"/>
<rect x="694" y="360" width="3" height="6" fill="#000"/>
<rect x="695" y="361" width="1" height="4" fill="#94505a"/>
<rect x="701" y="362" width="1" height="4" fill="#000"/>
<rect x="700" y="364" width="3" height="2" fill="#000"/>
<rect x="707" y="360" width="1" height="8" fill="#000"/>
<rect x="706" y="365" width="3" height="2" fill="#000"/>
<rect x="712" y="364" width="1" height="8" fill="#000"/>
<rect x="711" y="366" width="3" height="6" fill="#000"/>
<rect x="712" y="367" width="1" height="4" fill="#94505a"/>
<rect x="718" y="362" width="1" height="10" fill="#000"/>
<rect x="717" y="364" width="3" height="8" fill="#000"/>
<rect x="718" y="365" width="1" height="6" fill="#3d7468"/>
<rect x="724" y="362" width="1" height="7" fill="#000"/>
<rect x="723" y="363" width="3" height="3" fill="#000"/>
<rect x="724" y="364" width="1" height="1" fill="#94505a"/>
<rect x="729" y="354" width="1" height="15" fill="#000"/>
<rect x="728" y="356" width="3" height="10" fill="#000"/>
<rect x="729" y="357" width="1" height="8" fill="#3d7468"/>
<rect x="735" y="355" width="1" height="4" fill="#000"/>
<rect x="734" y="356" width="3" height="2" fill="#000"/>
<rect x="741" y="349" width="1" height="13" fill="#000"/>
<rect x="740" y="352" width="3" height="7" fill="#000"/>
<rect x="741" y="353" width="1" height="5" fill="#3d7468"/>
<rect x="746" y="346" width="1" height="9" fill="#000"/>
<rect x="745" y="348" width="3" height="2" fill="#000"/>
<rect x="752" y="340" width="1" height="9" fill="#000"/>
<rect x="751" y="341" width="3" height="7" fill="#000"/>
<rect x="752" y="342" width="1" height="5" fill="#3d7468"/>
<rect x="758" y="330" width="1" height="14" fill="#000"/>
<rect x="757" y="331" width="3" height="10" fill="#000"/>
<rect x="758" y="332" width="1" height="8" fill="#3d7468"/>
<rect x="763" y="308" width="1" height="24" fill="#000"/>
<rect x="762" y="310" width="3" height="21" fill="#000"/>
<rect x="763" y="311" width="1" height="19" fill="#3d7468"/>
<rect x="769" y="298" width="1" height="12" fill="#000"/>
<rect x="768" y="299" width="3" height="10" fill="#000"/>
<rect x="769" y="300" width="1" height="8" fill="#3d7468"/>
<rect x="774" y="304" width="1" height="11" fill="#000"/>
<rect x="773" y="304" width="3" height="2" fill="#000"/>
<rect x="780" y="294" width="1" height="14" fill="#000"/>
<rect x="779" y="295" width="3" height="13" fill="#000"/>
<rect x="780" y="296" width="1" height="11" fill="#3d7468"/>
<rect x="786" y="286" width="1" height="16" fill="#000"/>
<rect x="785" y="289" width="3" height="11" fill="#000"/>
<rect x="786" y="290" width="1" height="9" fill="#3d7468"/>
<rect x="791" y="278" width="1" height="13" fill="#000"/>
<rect x="790" y="287" width="3" height="2" fill="#000"/>
<rect x="797" y="284" width="1" height="10" fill="#000"/>
<rect x="796" y="287" width="3" height="5" fill="#000"/>
<rect x="797" y="288" width="1" height="3" fill="#3d7468"/>
<rect x="803" y="284" width="1" height="10" fill="#000"/>
<rect x="802" y="287" width="3" height="2" fill="#000"/>
<rect x="808" y="283" width="1" height="8" fill="#000"/>
<rect x="807" y="286" width="3" height="3" fill="#000"/>
<rect x="808" y="287" width="1" height="1" fill="#3d7468"/>
<rect x="814" y="276" width="1" height="16" fill="#000"/>
<rect x="813" y="277" width="3" height="10" fill="#000"/>
<rect x="814" y="278" width="1" height="8" fill="#3d7468"/>
<rect x="820" y="273" width="1" height="5" fill="#000"/>
<rect x="819" y="275" width="3" height="3" fill="#000"/>
<rect x="820" y="276" width="1" height="1" fill="#3d7468"/>
<rect x="825" y="271" width="1" height="15" fill="#000"/>
<rect x="824" y="275" width="3" height="3" fill="#000"/>
<rect x="825" y="276" width="1" height="1" fill="#94505a"/>
<rect x="831" y="280" width="1" height="12" fill="#000"/>
<rect x="830" y="284" width="3" height="5" fill="#000"/>
<rect x="831" y="285" width="1" height="3" fill="#94505a"/>
<rect x="837" y="278" width="1" height="12" fill="#000"/>
<rect x="836" y="281" width="3" height="8" fill="#000"/>
<rect x="837" y="282" width="1" height="6" fill="#3d7468"/>
<rect x="842" y="261" width="1" height="15" fill="#000"/>
<rect x="841" y="262" width="3" height="14" fill="#000"/>
<rect x="842" y="263" width="1" height="12" fill="#3d7468"/>
<rect x="848" y="249" width="1" height="14" fill="#000"/>
<rect x="847" y="252" width="3" height="10" fill="#000"/>
<rect x="848" y="253" width="1" height="8" fill="#3d7468"/>
<rect x="854" y="253" width="1" height="15" fill="#000"/>
<rect x="853" y="258" width="3" height="7" fill="#000"/>
<rect x="854" y="259" width="1" height="5" fill="#94505a"/>
<rect x="859" y="259" width="1" height="9" fill="#000"/>
<rect x="858" y="262" width="3" height="2" fill="#000"/>
<rect x="865" y="251" width="1" height="14" fill="#000"/>
<rect x="864" y="253" width="3" height="9" fill="#000"/>
<rect x="865" y="254" width="1" height="7" fill="#3d7468"/>
<rect x="870" y="239" width="1" height="21" fill="#000"/>
<rect x="869" y="241" width="3" height="19" fill="#000"/>
<rect x="870" y="242" width="1" height="17" fill="#3d7468"/>
<rect x="876" y="230" width="1" height="20" fill="#000"/>
<rect x="875" y="237" width="3" height="2" fill="#000"/>
<rect x="882" y="224" width="1" height="10" fill="#000"/>
<rect x="881" y="230" width="3" height="4" fill="#000"/>
<rect x="882" y="231" width="1" height="2" fill="#3d7468"/>
<rect x="887" y="224" width="1" height="21" fill="#000"/>
<rect x="886" y="232" width="3" height="6" fill="#000"/>
<rect x="887" y="233" width="1" height="4" fill="#94505a"/>
<rect x="893" y="225" width="1" height="12" fill="#000"/>
<rect x="892" y="227" width="3" height="9" fill="#000"/>
<rect x="893" y="228" width="1" height="7" fill="#3d7468"/>
<rect x="899" y="205" width="1" height="21" fill="#000"/>
<rect x="898" y="210" width="3" height="16" fill="#000"/>
<rect x="899" y="211" width="1" height="14" fill="#3d7468"/>
<rect x="904" y="200" width="1" height="12" fill="#000"/>
<rect x="903" y="202" width="3" height="6" fill="#000"/>
<rect x="904" y="203" width="1" height="4" fill="#3d7468"/>
<rect x="910" y="182" width="1" height="20" fill="#000"/>
<rect x="909" y="185" width="3" height="17" fill="#000"/>
<rect x="910" y="186" width="1" height="15" fill="#3d7468"/>
<rect x="916" y="183" width="1" height="31" fill="#000"/>
<rect x="915" y="187" width="3" height="25" fill="#000"/>
<rect x="916" y="188" width="1" height="23" fill="#94505a"/>
<rect x="921" y="193" width="1" height="21" fill="#000"/>
<rect x="920" y="203" width="3" height="3" fill="#000"/>
<rect x="921" y="204" width="1" height="1" fill="#3d7468"/>
<rect x="927" y="168" width="1" height="32" fill="#000"/>
<rect x="926" y="169" width="3" height="31" fill="#000"/>
<rect x="927" y="170" width="1" height="29" fill="#3d7468"/>
<rect x="933" y="153" width="1" height="23" fill="#000"/>
<rect x="932" y="161" width="3" height="9" fill="#000"/>
<rect x="933" y="162" width="1" height="7" fill="#3d7468"/>
<rect x="938" y="142" width="1" height="20" fill="#000"/>
<rect x="937" y="151" width="3" height="11" fill="#000"/>
<rect x="938" y="152" width="1" height="9" fill="#3d7468"/>
<rect x="944" y="113" width="1" height="33" fill="#000"/>
<rect x="943" y="124" width="3" height="21" fill="#000"/>
<rect x="944" y="125" width="1" height="19" fill="#3d7468"/>
<rect x="950" y="101" width="1" height="50" fill="#000"/>
<rect x="949" y="112" width="3" height="38" fill="#000"/>
<rect x="950" y="113" width="1" height="36" fill="#94505a"/>
<rect x="955" y="99" width="1" height="43" fill="#000"/>
<rect x="954" y="109" width="3" height="24" fill="#000"/>
<rect x="955" y="110" width="1" height="22" fill="#3d7468"/>
<rect x="961" y="100" width="1" height="78" fill="#000"/>
<rect x="960" y="106" width="3" height="70" fill="#000"/>
<rect x="961" y="107" width="1" height="68" fill="#94505a"/>
<rect x="967" y="158" width="1" height="39" fill="#000"/>
<rect x="966" y="168" width="3" height="19" fill="#000"/>
<rect x="967" y="169" width="1" height="17" fill="#94505a"/>
<rect x="972" y="158" width="1" height="24" fill="#000"/>
<rect x="971" y="165" width="3" height="8" fill="#000"/>
<rect x="972" y="166" width="1" height="6" fill="#3d7468"/>
<rect x="978" y="162" width="1" height="27" fill="#000"/>
<rect x="977" y="166" width="3" height="2" fill="#000"/>
<rect x="984" y="171" width="1" height="36" fill="#000"/>
<rect x="983" y="176" width="3" height="22" fill="#000"/>
<rect x="984" y="177" width="1" height="20" fill="#94505a"/>
<rect x="989" y="194" width="1" height="35" fill="#000"/>
<rect x="988" y="203" width="3" height="5" fill="#000"/>
<rect x="989" y="204" width="1" height="3" fill="#94505a"/>
<rect x="995" y="191" width="1" height="31" fill="#000"/>
<rect x="994" y="203" width="3" height="9" fill="#000"/>
<rect x="995" y="204" width="1" height="7" fill="#3d7468"/>
<rect x="1000" y="193" width="1" height="30" fill="#000"/>
<rect x="999" y="199" width="3" height="19" fill="#000"/>
<rect x="1000" y="200" width="1" height="17" fill="#3d7468"/>
<rect x="1006" y="188" width="1" height="19" fill="#000"/>
<rect x="1005" y="194" width="3" height="10" fill="#000"/>
<rect x="1006" y="195" width="1" height="8" fill="#94505a"/>
<rect x="1012" y="192" width="1" height="19" fill="#000"/>
<rect x="1011" y="200" width="3" height="3" fill="#000"/>
<rect x="1012" y="201" width="1" height="1" fill="#3d7468"/>
<rect x="1017" y="199" width="1" height="21" fill="#000"/>
<rect x="1016" y="200" width="3" height="14" fill="#000"/>
<rect x="1017" y="201" width="1" height="12" fill="#94505a"/>
<rect x="1023" y="203" width="1" height="17" fill="#000"/>
<rect x="1022" y="205" width="3" height="14" fill="#000"/>
<rect x="1023" y="206" width="1" height="12" fill="#3d7468"/>
<rect x="1029" y="196" width="1" height="14" fill="#000"/>
<rect x="1028" y="204" width="3" height="2" fill="#000"/>
<rect x="1034" y="198" width="1" height="10" fill="#000"/>
<rect x="1033" y="202" width="3" height="5" fill="#000"/>
<rect x="1034" y="203" width="1" height="3" fill="#3d7468"/>
</svg>
</div>
</div>
<!-- bottom panel -->
<div class="a" style="left:56px;top:685px;width:1181px;height:38px;background:#fff;border-top-left-radius:4px;border-top-right-radius:4px"></div>


<!-- ===== TOP BAR ===== -->
<div class="a" style="left:13px;top:6px;width:26px;height:26px;border-radius:50%;background:#a47f6a"></div>
<div class="t" style="left:20.5px;top:11px;font-size:17.5px;font-weight:bold;color:#fff">T</div>
<div class="a" style="left:30.5px;top:-0.5px;width:21px;height:21px;border-radius:50%;background:#e33b4c;border:1.8px solid #fff"></div>
<div class="t" style="left:35.8px;top:5px;font-size:9.5px;font-weight:bold;color:#fff;letter-spacing:-0.2px">11</div>
<svg class="i" style="left:63px;top:11px" width="16" height="16" viewBox="0 0 16 16"><circle cx="6.5" cy="6.5" r="5" class="ico" stroke-width="1.6"/><path d="M10.2 10.2 L14.3 14.3" class="ico" stroke-width="1.6"/></svg>
<div class="t" style="left:85px;top:14px;font-size:12.8px;font-weight:bold">GC1!</div>
<svg class="i" style="left:160px;top:9px" width="20" height="20" viewBox="0 0 20 20"><circle cx="10" cy="10" r="9" class="ico"/><path d="M10 5.5V14.5M5.5 10H14.5" class="ico" stroke-width="1.3"/></svg>
<div class="sep" style="left:194px;top:9px;height:20px"></div>
<div class="t" style="left:213.5px;top:14px;font-size:12.8px">D</div>
<div class="sep" style="left:240px;top:9px;height:20px"></div>
<svg class="i" style="left:250px;top:4px" width="30" height="30" viewBox="250 4 30 30"><path d="M260.6 9V12.3M260.6 25.5V29M268.4 12V15.2M268.4 22.6V25.8" class="ico" stroke-width="1.2" stroke-linecap="butt"/><rect x="258.6" y="12.4" width="4" height="13" rx="0.3" class="ico" stroke-width="1.2"/><rect x="266.4" y="15.3" width="3.9" height="7.2" rx="0.3" class="ico" stroke-width="1.2"/></svg>
<div class="sep" style="left:287px;top:9px;height:20px"></div>
<svg class="i" style="left:298px;top:4px" width="28" height="28" viewBox="298 4 28 28"><path d="M302.9 16.8L308.5 11.8 312.5 15.2 320 9.9" class="ico" stroke-width="1.2"/><path d="M303.6 27.2V23.6H307.4V27.2M307.4 27.2V20.5H311.4V27.2M311.4 27.2V22.4H315.5V27.2M315.5 27.2V17.4H319.5V27.2H303.6" class="ico" stroke-width="1.2" stroke-linejoin="miter"/></svg>
<div class="t" style="left:329px;top:13px;font-size:14.2px">Indicators</div>
<svg class="i" style="left:407px;top:15px" width="12" height="8" viewBox="0 0 12 8"><path d="M2 2.5L6 6 10 2.5" class="ico"/></svg>
<svg class="i" style="left:434px;top:9px" width="21" height="20" viewBox="434 9 21 20"><g class="ico" stroke-width="1.2"><rect x="436.6" y="11.9" width="6.6" height="6" rx="2"/><rect x="445.3" y="11.9" width="6.6" height="6" rx="2"/><rect x="436.6" y="20.5" width="6.6" height="6" rx="2"/><rect x="445.3" y="20.5" width="6.6" height="6" rx="2"/></g></svg>
<div class="sep" style="left:467px;top:9px;height:20px"></div>
<svg class="i" style="left:478px;top:6px" width="26" height="26" viewBox="478 6 26 26"><path d="M498.2 20.9A8 8 0 1 0 491.7 27.4" class="ico" stroke-width="1.2"/><path d="M490.3 15V19.5H486.5" class="ico" stroke-width="1.2"/><path d="M496.5 21.2V29.6M492.3 25.4H500.7" class="ico" stroke-width="1.2"/><path d="M481 13.3L484.7 10M495.9 10L499.7 13.3" class="ico" stroke-width="1.2"/></svg>
<div class="t" style="left:509px;top:13px;font-size:14px">Alert</div>
<svg class="i" style="left:561px;top:12px" width="17" height="14" viewBox="0 0 17 14"><path d="M8 1.5L1.5 7 8 12.5ZM15.5 1.5L9 7 15.5 12.5Z" class="ico"/></svg>
<div class="t" style="left:587px;top:13px;font-size:13.6px">Replay</div>
<div class="sep" style="left:642px;top:9px;height:20px"></div>
<svg class="i" style="left:658px;top:12px" width="16" height="14" viewBox="0 0 16 14"><path d="M5.5 1.5L1.5 5.5 5.5 9.5M1.5 5.5H9A5 5 0 0 1 14 10.5V12" class="ico"/></svg>
<svg class="i" style="left:695px;top:12px" width="16" height="14" viewBox="0 0 16 14"><path d="M10.5 1.5L14.5 5.5 10.5 9.5M14.5 5.5H7A5 5 0 0 0 2 10.5V12" class="ico" style="stroke:#b2b5be"/></svg>

<svg class="i" style="left:925px;top:11px" width="20" height="18" viewBox="0 0 20 18"><rect x="1" y="1" width="17.5" height="15.5" rx="2.5" class="ico" stroke-width="1.5"/></svg>
<div class="t" style="left:959px;top:8px;font-size:13.4px">Unnamed</div>
<div class="t" style="left:977.5px;top:21.5px;font-size:10px;color:#3b62b5">Save</div>
<svg class="i" style="left:1029px;top:15px" width="12" height="8" viewBox="0 0 12 8"><path d="M2 2.5L6 6 10 2.5" class="ico"/></svg>
<div class="sep" style="left:1051px;top:9px;height:20px"></div>
<svg class="i" style="left:1062px;top:5px" width="26" height="28" viewBox="1062 5 26 28"><path d="M1071.4 11.1A7.3 7.3 0 1 0 1080.4 18.3" class="ico" stroke-width="1.2"/><path d="M1078.8 23.7L1083.7 28.6" class="ico" stroke-width="1.2"/><path d="M1077.1 8.2L1072.5 14.3 1075.7 15.2 1075.6 20.6 1080.6 13.8 1077.3 13Z" class="ico" stroke-width="1.2"/></svg>
<svg class="i" style="left:1100px;top:7px" width="26" height="24" viewBox="1100 7 26 24"><path d="M1103 18.7L1107.6 10.3H1118.5L1122.9 18.7 1118.5 27.2H1107.6Z" class="ico" stroke-width="1.2"/><circle cx="1112.9" cy="18.7" r="3.4" class="ico" stroke-width="1.2"/></svg>
<svg class="i" style="left:1142px;top:10px" width="18" height="18" viewBox="0 0 18 18"><path d="M1 5.5V3A2 2 0 0 1 3 1H5.5M12.5 1H15A2 2 0 0 1 17 3V5.5M17 12.5V15A2 2 0 0 1 15 17H12.5M5.5 17H3A2 2 0 0 1 1 15V12.5" class="ico" stroke-width="1.4"/></svg>
<svg class="i" style="left:1177px;top:9px" width="23" height="19" viewBox="0 0 23 19"><path d="M1.5 5A1.5 1.5 0 0 1 3 3.5H7L8.5 1.5H14.5L16 3.5H20A1.5 1.5 0 0 1 21.5 5V16.5A1.5 1.5 0 0 1 20 18H3A1.5 1.5 0 0 1 1.5 16.5Z" class="ico"/><circle cx="11.5" cy="10.5" r="3.8" class="ico"/></svg>
<div class="a" style="left:1212px;top:5px;width:69px;height:28px;border-radius:14px;background:#222"></div>
<div class="t" style="left:1224px;top:12px;font-size:13.3px;font-weight:bold;color:#fff;letter-spacing:-0.4px">Publish</div>

<!-- ===== LEFT TOOLBAR ===== -->
<div class="a" style="left:9px;top:50px;width:34px;height:34px;border-radius:6px;background:#ebebeb"></div>
<svg class="i" style="left:16px;top:58px" width="18" height="18" viewBox="0 0 18 18"><path d="M3 2L14 9.5 9 10.5 12 16 10 17 7 11.5 3.5 14.5Z" class="ico"/></svg>
<svg class="i" style="left:13px;top:93px" width="26" height="24" viewBox="0 0 26 24"><path d="M5 19L21 5" class="ico"/><circle cx="3.5" cy="20.5" r="2" class="ico"/><circle cx="22.5" cy="3.5" r="2" class="ico"/></svg>
<svg class="i" style="left:10px;top:128px" width="32" height="28" viewBox="10 128 32 28"><path d="M15 133.5H37M15 139.5H34.5M15 145.5H37M18 151.5H37" class="ico" stroke-width="1"/><circle cx="36.5" cy="139.5" r="2" class="ico" stroke-width="1"/><circle cx="15.8" cy="151.5" r="2" class="ico" stroke-width="1"/></svg>
<svg class="i" style="left:10px;top:166px" width="32" height="28" viewBox="10 166 32 28"><path d="M17.3 189.3L20 172.3 24.2 179.4 32.5 173.1 35.4 186.6 24.2 179.4Z" class="ico" stroke-width="1"/><g class="ico" stroke-width="1" style="fill:#fff"><circle cx="20" cy="172.3" r="2.1"/><circle cx="32.5" cy="173.1" r="2.1"/><circle cx="24.2" cy="179.4" r="2.1"/><circle cx="17.3" cy="189.3" r="2.1"/><circle cx="35.4" cy="186.6" r="2.1"/></g></svg>
<svg class="i" style="left:10px;top:205px" width="32" height="28" viewBox="10 205 32 28"><path d="M18.3 211.5H36M18.3 221.5H32.5M18.3 227.5H36" class="ico" stroke-width="1"/><path d="M21 219.2L35 213.3" class="ico" stroke-width="1" stroke-dasharray="1.2 2.2"/><g class="ico" stroke-width="1"><circle cx="16.3" cy="211.3" r="2"/><circle cx="16.3" cy="221.5" r="2"/><circle cx="16.3" cy="227.5" r="2"/><circle cx="34.6" cy="221.5" r="2"/></g></svg>
<svg class="i" style="left:10px;top:244px" width="32" height="26" viewBox="10 244 32 26"><path d="M15.3 265.5C17 261 21 256 26 255.5 29 255.3 29.5 258.5 28 261 26 264.5 20 265.5 15.3 265.5Z" class="ico" stroke-width="1"/><path d="M30.8 253.3C31.5 256.5 34 257 36 255 37.5 253.5 38.5 251 39.2 249.5" class="ico" stroke-width="1"/></svg>
<svg class="i" style="left:17px;top:285px" width="18" height="20" viewBox="0 0 18 20"><path d="M2 2.5V1.5H16V2.5M9 1.5V18.5M6 18.5H12" class="ico" stroke-width="1.3"/></svg>
<svg class="i" style="left:13px;top:321px" width="26" height="26" viewBox="0 0 26 26"><circle cx="13" cy="13" r="11" class="ico"/><circle cx="9.5" cy="11" r="1" style="fill:#131722"/><circle cx="16.5" cy="11" r="1" style="fill:#131722"/><path d="M8.5 15.5Q13 19.5 17.5 15.5" class="ico"/></svg>
<div class="a" style="left:8px;top:358px;width:36px;height:1px;background:#e0e3eb"></div>
<svg class="i" style="left:12px;top:369px" width="28" height="28" viewBox="0 0 28 28"><path d="M2 21L21 2 26 7 7 26Z" class="ico"/><path d="M6 17L8.5 19.5M9 14L11 16M12 11L14.5 13.5M15 8L17 10M18 5L20.5 7.5" class="ico" stroke-width="1.1"/></svg>
<svg class="i" style="left:14px;top:410px" width="24" height="24" viewBox="0 0 24 24"><circle cx="10.5" cy="10.5" r="8.5" class="ico"/><path d="M16.5 16.5L22.5 22.5M10.5 6.5V14.5M6.5 10.5H14.5" class="ico"/></svg>
<div class="a" style="left:8px;top:448px;width:36px;height:1px;background:#e0e3eb"></div>
<svg class="i" style="left:15px;top:461px" width="22" height="22" viewBox="0 0 22 22"><path d="M2 20V10A9 9 0 0 1 20 10V20H15V10A4 4 0 0 0 7 10V20Z" class="ico"/><path d="M2 16H7M15 16H20" class="ico"/></svg>
<svg class="i" style="left:13px;top:498px" width="26" height="26" viewBox="0 0 26 26"><path d="M2 20L3 15 15 3 19 7 7 19Z M13 5L17 9" class="ico"/><rect x="16" y="18" width="9" height="7" rx="1.5" class="ico"/><path d="M18 18V15.5A2.5 2.5 0 0 1 23 15.5" class="ico"/></svg>
<svg class="i" style="left:16px;top:538px" width="20" height="22" viewBox="0 0 20 22"><rect x="2" y="10" width="16" height="11" rx="2" class="ico"/><path d="M5 10V6A5 5 0 0 1 14.5 4" class="ico"/><path d="M10 14V17" class="ico"/></svg>
<svg class="i" style="left:12px;top:574px" width="28" height="24" viewBox="0 0 28 24"><path d="M2 9Q13 -3 24 9Q13 21 2 9Z" class="ico"/><circle cx="13" cy="9" r="3.5" class="ico"/><path d="M17 20L20 17 24 19 27 16" class="ico"/></svg>
<div class="a" style="left:8px;top:612px;width:36px;height:1px;background:#e0e3eb"></div>
<svg class="i" style="left:16px;top:625px" width="20" height="22" viewBox="0 0 20 22"><path d="M1.5 4H18.5M7 4V2H13V4M3.5 4L5 20.5H15L16.5 4" class="ico"/></svg>
<div class="a" style="left:-12px;top:717px;width:18px;height:18px;border-radius:50%;background:#5e0e18"></div>

<!-- ===== CHART LEGEND ===== -->
<div class="a" style="left:64px;top:49px;width:40px;height:18px;border-radius:9px;overflow:hidden;background:#fbe3c2"><div class="a" style="left:0;top:0;width:20px;height:18px;background:#dcf1ed"></div></div>
<div class="a" style="left:71px;top:54px;width:8px;height:8px;border-radius:50%;background:#089981"></div>
<div class="t" style="left:89px;top:52px;font-size:12px;color:#e89a2c">D</div>
<div class="t" style="left:112px;top:52px;font-size:13px;word-spacing:1px">O3,986.9 H4,022.6 L3,981.6 C4,005.9 +14.9 (+0.37%)</div>
<div class="t" style="left:65px;top:76px;font-size:13px">Vol</div>
<div class="t" style="left:91px;top:76px;font-size:13px;color:#3fa598">75.58 K</div>
<div class="t" style="left:65px;top:100px;font-size:13px;letter-spacing:-0.8px">EMA</div>
<div class="t" style="left:97px;top:100px;font-size:13px;color:#d24b5a">3,899.3</div>
<div class="t" style="left:65px;top:124px;font-size:13px;letter-spacing:-0.8px">EMA</div>
<div class="t" style="left:97px;top:124px;font-size:13px;color:#3d3db5">3,432.4</div>
<div class="a" style="left:64px;top:145px;width:29px;height:20px;border-radius:3px;background:#fff;border:1px solid #dfe1e6"></div>
<svg class="i" style="left:72px;top:151px" width="12" height="8" viewBox="0 0 12 8"><path d="M2 6L6 2.5 10 6" class="ico" stroke-width="1.6"/></svg>

<!-- ===== PRICE SCALE ===== -->
<div class="ps" style="top:40px">4,600.0</div>
<div class="ps" style="top:92px">4,400.0</div>
<div class="ps" style="top:302px">3,600.0</div>
<div class="ps" style="top:354px">3,400.0</div>
<div class="ps" style="top:406px">3,200.0</div>
<div class="ps" style="top:458px">3,000.0</div>
<div class="ps" style="top:511px">2,800.0</div>
<div class="ps" style="top:563px">2,600.0</div>
<div class="pl" style="left:1172px;top:143px;width:54px;height:16.6px;line-height:16.6px;background:#2a5ef0">4,200.0</div>
<div class="pl" style="left:1115px;top:194px;width:56px;height:17px;line-height:17px;border-radius:3px 0 0 3px;background:#0b8f78;font-size:11.5px;color:#e6fff9;-webkit-text-stroke:0.2px #e6fff9">GCZ2025</div>
<div class="a" style="left:1172px;top:194px;width:60px;height:31px;border-radius:0 3px 3px 0;background:#0b8f78"></div>
<div class="t" style="left:1180px;top:196px;font-size:12px;color:#e6fff9;-webkit-text-stroke:0.25px #e6fff9">4,005.9</div>
<div class="t" style="left:1180px;top:209px;font-size:12px;color:#e6fff9;-webkit-text-stroke:0.25px #e6fff9">08:06:21</div>
<div class="pl" style="left:1172px;top:225px;width:54px;background:#2a5ef0">4,000.0</div>
<div class="pl" style="left:1172px;top:242px;width:54px;background:#f23645">3,899.3</div>
<div class="pl" style="left:1172px;top:259px;width:54px;background:#2a5ef0">3,800.0</div>
<div class="pl" style="left:1172px;top:344px;width:54px;background:#3131e3">3,432.4</div>
<div class="pl" style="left:1172px;top:586px;width:52px;background:#26a69a;font-weight:bold">75.58 K</div>

<!-- ===== TIME SCALE ===== -->
<div class="tl" style="left:169.9px">Apr</div>
<div class="tl" style="left:288.5px">May</div>
<div class="tl" style="left:407.0px">Jun</div>
<div class="tl" style="left:520.0px">Jul</div>
<div class="tl" style="left:645.0px">Aug</div>
<div class="tl" style="left:763.3px">Sep</div>
<div class="tl" style="left:881.9px">Oct</div>
<div class="tl" style="left:1012.2px">Nov</div>
<div class="tl" style="left:1119.5px">Dec</div>
<svg class="i" style="left:1196px;top:621px" width="16" height="15" viewBox="0 0 16 15"><path d="M4.5 1.5H11.5L15 7.5 11.5 13.5H4.5L1 7.5Z" class="ico"/><circle cx="8" cy="7.5" r="2" class="ico"/></svg>

<!-- event icons -->
<svg class="i" style="left:384.4px;top:590px" width="24" height="24" viewBox="0 0 24 24"><circle cx="12" cy="12" r="10" fill="#fff" fill-opacity="0.9" stroke="#46309a" stroke-width="1.4"/><path d="M7 7.5L11 11H17.5M14.2 7.8L17.5 11 14.2 14.2" fill="none" stroke="#5236c4" stroke-width="1.5" stroke-linecap="round" stroke-linejoin="round"/><path d="M6.5 15.5L9 13.5" fill="none" stroke="#46309a" stroke-width="1.5" stroke-linecap="round"/></svg>
<svg class="i" style="left:621.4px;top:590px" width="24" height="24" viewBox="0 0 24 24"><circle cx="12" cy="12" r="10" fill="#fff" fill-opacity="0.9" stroke="#46309a" stroke-width="1.4"/><path d="M7 7.5L11 11H17.5M14.2 7.8L17.5 11 14.2 14.2" fill="none" stroke="#5236c4" stroke-width="1.5" stroke-linecap="round" stroke-linejoin="round"/><path d="M6.5 15.5L9 13.5" fill="none" stroke="#46309a" stroke-width="1.5" stroke-linecap="round"/></svg>
<svg class="i" style="left:1096.5px;top:590px" width="24" height="24" viewBox="0 0 24 24"><circle cx="12" cy="12" r="10" fill="#fff" fill-opacity="0.9" stroke="#46309a" stroke-width="1.4"/><path d="M7 7.5L11 11H17.5M14.2 7.8L17.5 11 14.2 14.2" fill="none" stroke="#5236c4" stroke-width="1.5" stroke-linecap="round" stroke-linejoin="round"/><path d="M6.5 15.5L9 13.5" fill="none" stroke="#46309a" stroke-width="1.5" stroke-linecap="round"/></svg>
<svg class="i" style="left:1023.4px;top:590px" width="24" height="24" viewBox="0 0 24 24"><circle cx="12" cy="12" r="10" fill="#fff" fill-opacity="0.9" stroke="#6a3a9e" stroke-width="1.4"/><path d="M14.5 6.5L8.5 12.5H12.5L9.5 17.5 15.5 11.2H11.5Z" fill="#7a3cb0" stroke="#7a3cb0" stroke-width="0.6" stroke-linejoin="round"/></svg>

<!-- TradingView logo -->
<svg class="i" style="left:60px;top:578px" width="172" height="30" viewBox="60 578 172 30"><g fill="#131722" stroke="#fff" stroke-width="4.5" stroke-linejoin="round" paint-order="stroke"><path d="M68.1 585.1H79.9V599.9H74V590.7H68.1Z"/><circle cx="85" cy="587.6" r="2.8"/><path d="M90.9 585.1H97.7L92.1 599.9H85Z"/><text x="105" y="599.9" font-family="Liberation Sans" font-weight="bold" font-size="20.5">TradingView</text></g></svg>
<!-- ===== TIMEFRAME BAR ===== -->
<div class="a" style="left:56px;top:642px;width:1181px;height:1px;background:#e0e3eb"></div>
<div class="tf" style="left:70px">1D</div>
<div class="tf" style="left:98px">5D</div>
<div class="tf" style="left:126px">1M</div>
<div class="tf" style="left:155px">3M</div>
<div class="tf" style="left:184px">6M</div>
<div class="tf" style="left:213px">YTD</div>
<div class="tf" style="left:250px">1Y</div>
<div class="tf" style="left:277px">5Y</div>
<div class="tf" style="left:304px">All</div>
<div class="sep" style="left:332px;top:651px;height:21px"></div>
<svg class="i" style="left:345px;top:651px" width="22" height="20" viewBox="0 0 22 20"><path d="M2 8V4A1.5 1.5 0 0 1 3.5 2.5H18.5A1.5 1.5 0 0 1 20 4V17A1.5 1.5 0 0 1 18.5 18.5H11M2 7H20M6 1V4M16 1V4M2 14H9M6.5 11L9 14 6.5 17" class="ico"/></svg>
<div class="tf" style="left:1051px;font-size:13.4px">14:03:38 UTC</div>
<div class="sep" style="left:1145px;top:651px;height:21px"></div>
<div class="tf" style="left:1156px">B-ADJ</div>
<div class="a" style="left:1201px;top:645px;width:30px;height:33px;border-radius:5px;background:#ebebeb"></div>
<div class="tf" style="left:1204px">SET</div>

<!-- ===== BOTTOM PANEL ===== -->
<div class="t" style="left:72.5px;top:697.8px;font-size:13.7px">Pine Editor</div>
<div class="t" style="left:173px;top:697.8px;font-size:13.6px">Trading Panel</div>
<svg class="i" style="left:1171px;top:697px" width="22" height="12" viewBox="0 0 22 12"><path d="M2 10L11 2.5 20 10" class="ico" stroke-width="1.4"/></svg>
<svg class="i" style="left:1209px;top:695px" width="18" height="17" viewBox="0 0 18 17"><path d="M1.5 5.5V3.5A2 2 0 0 1 3.5 1.5H14.5A2 2 0 0 1 16.5 3.5V5.5M16.5 11.5V13.5A2 2 0 0 1 14.5 15.5H3.5A2 2 0 0 1 1.5 13.5V11.5" class="ico" stroke-width="1.4"/></svg>

<!-- ===== RIGHT TOOLBAR ===== -->
<svg class="i" style="left:1253px;top:54px" width="22" height="25" viewBox="0 0 22 25"><path d="M1.5 1.5H20.5V23.5L11 19 1.5 23.5Z" class="ico"/><path d="M5.5 6.5H16.5M5.5 10.5H16.5M5.5 14.5H16.5" class="ico"/></svg>
<svg class="i" style="left:1250px;top:96px" width="28" height="28" viewBox="0 0 28 28"><circle cx="14" cy="15.5" r="10" class="ico"/><path d="M13 9.5V16.5H9" class="ico"/><path d="M2.5 6L6.5 2.5M21.5 2.5L25.5 6" class="ico"/></svg>
<svg class="i" style="left:1250px;top:146px" width="28" height="22" viewBox="0 0 28 22"><path d="M14 1.5L26 8 14 14.5 2 8Z" class="ico"/><path d="M2 13L14 19.5 26 13" class="ico"/></svg>
<svg class="i" style="left:1251px;top:192px" width="27" height="26" viewBox="0 0 27 26"><path d="M2 2.5A1.5 1.5 0 0 1 3.5 1H17.5A1.5 1.5 0 0 1 19 2.5V13.5A1.5 1.5 0 0 1 17.5 15H7L2 20Z" class="ico"/><path d="M19 8.5H23.5A1.5 1.5 0 0 1 25 10V24.5L21 20.5H11A1.5 1.5 0 0 1 9.5 19V15" class="ico"/></svg>
<svg class="i" style="left:1249px;top:443px" width="30" height="30" viewBox="0 0 30 30"><circle cx="15" cy="15" r="13.5" class="ico"/><circle cx="15" cy="15" r="8.5" class="ico"/><circle cx="15" cy="15" r="2" style="fill:#131722"/><path d="M15 15L22 8" class="ico"/></svg>
<svg class="i" style="left:1251px;top:490px" width="27" height="27" viewBox="0 0 27 27"><rect x="1.5" y="4.5" width="24" height="21" rx="3" class="ico"/><path d="M1.5 10.5H25.5" class="ico"/><rect x="6" y="1.5" width="3" height="6" rx="1" class="ico" style="fill:#fff"/><rect x="18" y="1.5" width="3" height="6" rx="1" class="ico" style="fill:#fff"/></svg>
<svg class="i" style="left:1250px;top:532px" width="28" height="30" viewBox="0 0 28 30"><path d="M3 5A21 21 0 0 1 24 26.5M3 12A14 14 0 0 1 17 26.5M3 19A7 7 0 0 1 10 26.5" class="ico"/><circle cx="4.5" cy="25" r="1.8" class="ico"/></svg>
<div class="a" style="left:1264px;top:529px;width:19px;height:19px;border-radius:50%;background:#e33b4c;border:1.5px solid #fff"></div>
<div class="t" style="left:1270px;top:533px;font-size:11px;font-weight:bold;color:#fff">2</div>
<svg class="i" style="left:1250px;top:576px" width="28" height="34" viewBox="0 0 28 34"><path d="M6 24V15A8 8 0 0 1 22 15V24L25 27H3Z" class="ico"/><path d="M10.5 27.5A3.5 3.5 0 0 0 17.5 27.5" class="ico"/></svg>
<div class="a" style="left:1264px;top:575px;width:19px;height:19px;border-radius:50%;background:#e33b4c;border:1.5px solid #fff"></div>
<div class="t" style="left:1270px;top:579px;font-size:11px;font-weight:bold;color:#fff">2</div>
<div class="a" style="left:1247.3px;top:625.5px;width:33.5px;height:33.5px;border-radius:50%;background:#222"></div>
<svg class="i" style="left:1254px;top:632.3px" width="20" height="20" viewBox="0 0 20 20"><g fill="#fff"><rect x="1" y="1" width="4" height="4" rx="1"/><rect x="8" y="1" width="4" height="4" rx="1"/><rect x="15" y="1" width="4" height="4" rx="1"/><rect x="1" y="8" width="4" height="4" rx="1"/><rect x="8" y="8" width="4" height="4" rx="1"/><rect x="15" y="8" width="4" height="4" rx="1"/><rect x="1" y="15" width="4" height="4" rx="1"/><rect x="8" y="15" width="4" height="4" rx="1"/><rect x="15" y="15" width="4" height="4" rx="1"/></g></svg>
<div class="a" style="left:1248px;top:670px;width:32px;height:1px;background:#e0e3eb"></div>
<svg class="i" style="left:1249px;top:684px" width="30" height="30" viewBox="0 0 30 30"><circle cx="15" cy="15" r="13.5" class="ico"/><path d="M10.5 11.5A4.5 4.5 0 1 1 15 16V19" class="ico"/><circle cx="15" cy="23" r="1.2" class="ico"/></svg>
<div class="a" style="left:1280px;top:713px;width:26px;height:26px;border-radius:50%;background:#6b1420"></div>

</body></html>
